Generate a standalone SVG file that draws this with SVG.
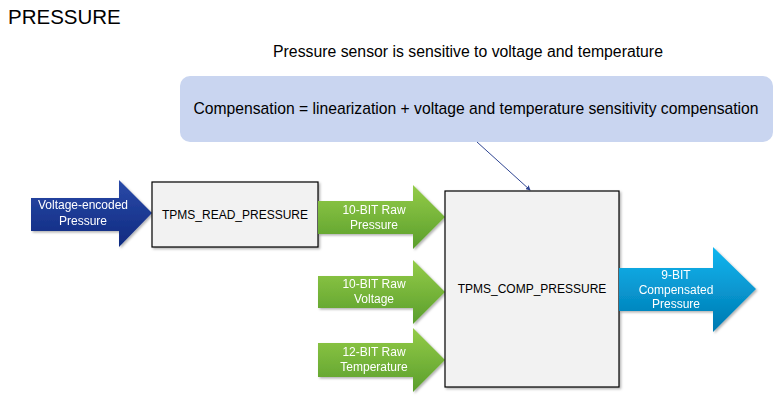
<svg xmlns="http://www.w3.org/2000/svg" width="783" height="406" viewBox="0 0 783 406">
<defs>
<linearGradient id="gBlue" x1="0" y1="0" x2="0" y2="1">
<stop offset="0" stop-color="#2a4aa8"/><stop offset="1" stop-color="#0f2a80"/>
</linearGradient>
<linearGradient id="gGreen" x1="0" y1="0" x2="0" y2="1">
<stop offset="0" stop-color="#94cc48"/><stop offset="1" stop-color="#5a9e2c"/>
</linearGradient>
<linearGradient id="gCyan" x1="0" y1="0" x2="0" y2="1">
<stop offset="0" stop-color="#10b6f0"/><stop offset="1" stop-color="#0078b0"/>
</linearGradient>
<filter id="sh" x="-10%" y="-10%" width="130%" height="130%">
<feDropShadow dx="1.5" dy="1.5" stdDeviation="1.2" flood-color="#000" flood-opacity="0.3"/>
</filter>
<marker id="ah" viewBox="0 0 6 6" refX="5" refY="3" markerWidth="5" markerHeight="5" orient="auto">
<path d="M0,0 L6,3 L0,6 z" fill="#2f4592"/>
</marker>
</defs>
<style>
text{font-family:"Liberation Sans",Arial,sans-serif;}
.box{fill:#f2f2f2;stroke:#000;stroke-width:1.2;}
.bt{font-size:12px;fill:#000;text-anchor:middle;}
.at{font-size:12px;fill:#fff;text-anchor:middle;}
</style>
<rect width="783" height="406" fill="#fff"/>
<text x="8" y="24" font-size="20.5" fill="#000">PRESSURE</text>
<text x="468" y="57" font-size="15.8" fill="#000" text-anchor="middle">Pressure sensor is sensitive to voltage and temperature</text>

<g id="callout">
<rect x="180" y="76" width="593" height="66" rx="10" fill="#c9d5f0"/>
<text x="476" y="114" font-size="15.7" fill="#000" text-anchor="middle">Compensation = linearization + voltage and temperature sensitivity compensation</text>
</g>

<g id="connectors">
<line x1="477" y1="142" x2="530" y2="190" stroke="#2f4592" stroke-width="1" marker-end="url(#ah)"/>
</g>

<g id="in-voltage" filter="url(#sh)">
<path d="M31,198 H119 V180 L152,213 L119,247 V231 H31 Z" fill="url(#gBlue)"/>
<text class="at" x="83" y="209">Voltage-encoded</text>
<text class="at" x="83" y="225">Pressure</text>
</g>

<g id="read">
<rect class="box" x="152" y="182" width="166" height="65" filter="url(#sh)"/>
<text class="bt" x="235" y="219">TPMS_READ_PRESSURE</text>
</g>

<g id="raw-pressure" filter="url(#sh)">
<path d="M318,201 H413 V185 L445,217 L413,249 V234 H318 Z" fill="url(#gGreen)"/>
<text class="at" x="374" y="214">10-BIT Raw</text>
<text class="at" x="374" y="229">Pressure</text>
</g>

<g id="raw-voltage" filter="url(#sh)">
<path d="M318,276 H413 V260 L445,292 L413,324 V308 H318 Z" fill="url(#gGreen)"/>
<text class="at" x="374" y="288">10-BIT Raw</text>
<text class="at" x="374" y="303">Voltage</text>
</g>

<g id="raw-temp" filter="url(#sh)">
<path d="M318,343 H413 V328 L445,360 L413,392 V377 H318 Z" fill="url(#gGreen)"/>
<text class="at" x="374" y="356">12-BIT Raw</text>
<text class="at" x="374" y="371">Temperature</text>
</g>

<g id="comp">
<rect class="box" x="445" y="191" width="174" height="196" filter="url(#sh)"/>
<text class="bt" x="532" y="293">TPMS_COMP_PRESSURE</text>
</g>

<g id="out" filter="url(#sh)">
<path d="M619,268 H713 V247 L756,289 L713,332 V311 H619 Z" fill="url(#gCyan)"/>
<text class="at" x="676" y="279">9-BIT</text>
<text class="at" x="676" y="294">Compensated</text>
<text class="at" x="676" y="308">Pressure</text>
</g>
</svg>
